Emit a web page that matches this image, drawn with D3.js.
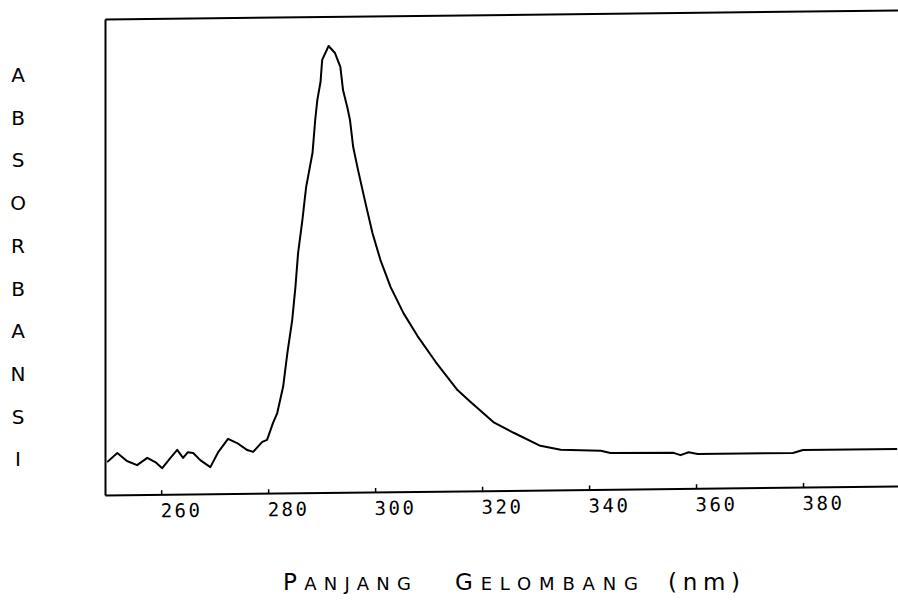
<!DOCTYPE html>
<html>
<head>
<meta charset="utf-8">
<script src="https://cdn.jsdelivr.net/npm/d3@7"></script>
<style>
  body { margin: 0; background: #fff; }
</style>
</head>
<body>
<script>
// Wavelength (nm)
let wavelength = [
  249.9, 251.8, 253.6, 255.5, 257.4, 258.9, 260.2, 261.7, 263.0, 264.1,
  265.0, 266.0, 267.3, 269.2, 270.7, 272.5, 274.2, 276.1, 277.2, 278.9,
  279.8, 280.9, 281.7, 282.8, 283.6, 284.5, 285.1, 285.6, 286.4, 287.1,
  288.3, 288.8, 289.2, 289.8, 290.1, 291.3, 292.5, 293.5, 294.0, 294.8,
  295.3, 295.9, 296.8, 298.2, 299.5, 301.0, 302.9, 305.3, 307.9, 311.3,
  315.4, 317.8, 322.1, 325.9, 330.9, 334.7, 342.2, 344.0, 355.8, 357.1,
  358.6, 360.3, 378.1, 380.0, 397.6
];

// Absorbance (relative, frame height = 1)
let absorbance = [
  0.069, 0.088, 0.071, 0.062, 0.077, 0.068, 0.055, 0.076, 0.093, 0.076,
  0.088, 0.086, 0.071, 0.056, 0.088, 0.115, 0.106, 0.091, 0.087, 0.108,
  0.112, 0.147, 0.168, 0.223, 0.294, 0.363, 0.432, 0.504, 0.573, 0.642,
  0.714, 0.783, 0.825, 0.863, 0.909, 0.938, 0.923, 0.894, 0.845, 0.809,
  0.782, 0.725, 0.677, 0.607, 0.544, 0.487, 0.430, 0.375, 0.327, 0.272,
  0.212, 0.187, 0.144, 0.121, 0.093, 0.084, 0.081, 0.076, 0.075, 0.070,
  0.076, 0.072, 0.072, 0.078, 0.078
];

let xTicks = [260, 280, 300, 320, 340, 360, 380];
let yLetters = ['A', 'B', 'S', 'O', 'R', 'B', 'A', 'N', 'S', 'I'];

let data = wavelength.map((w, i) => ({ nm: w, a: absorbance[i] }));

let width = 898, height = 605;
let margin = { top: 19, bottom: 110, left: 105, right: -12 };

let svg = d3.select('body')
  .append('svg')
  .attr('width', width)
  .attr('height', height)
  .style('background', '#fff');

let xScale = d3.scaleLinear()
  .domain([249.5, 400])
  .range([margin.left, width - margin.right]);

let yScale = d3.scaleLinear()
  .domain([0, 1])
  .range([height - margin.bottom, margin.top]);

// the scanned plot is slightly slanted
let plot = svg.append('g')
  .attr('transform', `translate(${margin.left},0) skewY(-0.65) translate(${-margin.left},0)`);

// bottom axis
let xAxis = plot.append('g')
  .attr('transform', `translate(0,${height - margin.bottom})`)
  .call(d3.axisBottom(xScale).tickValues(xTicks).tickSize(-4).tickSizeOuter(0));

xAxis.select('.domain').attr('stroke-width', 2);
xAxis.selectAll('.tick line').attr('stroke-width', 1.5);
xAxis.selectAll('.tick text')
  .attr('text-anchor', 'start')
  .attr('x', -1)
  .attr('y', 23)
  .attr('dy', 0)
  .style('font-family', 'DejaVu Sans Mono')
  .style('font-size', '19px')
  .style('letter-spacing', '2.5px')
  .style('fill', '#000');

// left and top frame lines
plot.append('g')
  .attr('transform', `translate(${margin.left},0)`)
  .call(d3.axisLeft(yScale).tickValues([]).tickSizeOuter(0))
  .select('.domain').attr('stroke-width', 2);

plot.append('g')
  .attr('transform', `translate(0,${margin.top})`)
  .call(d3.axisTop(xScale).tickValues([]).tickSizeOuter(0))
  .select('.domain').attr('stroke-width', 2);

// spectrum trace
let line = d3.line()
  .x(d => xScale(d.nm))
  .y(d => yScale(d.a));

plot.append('path')
  .datum(data)
  .attr('d', line)
  .attr('fill', 'none')
  .attr('stroke', '#000')
  .attr('stroke-width', 2)
  .attr('stroke-linejoin', 'round');

// vertical y label, one letter per row
svg.append('g')
  .selectAll('text')
  .data(yLetters)
  .enter()
  .append('text')
  .attr('x', 18)
  .attr('y', (d, i) => 82 + i * 42.7)
  .attr('text-anchor', 'middle')
  .style('font-family', 'DejaVu Sans')
  .style('font-size', '20px')
  .style('fill', '#000')
  .text(d => d);

// x axis title in small caps
let title = svg.append('g')
  .style('font-family', 'DejaVu Sans')
  .style('fill', '#000');

let words = [
  { big: 'P', rest: 'ANJANG', x: 283, w: 128 },
  { big: 'G', rest: 'ELOMBANG', x: 455, w: 183 }
];

words.forEach(d => {
  let t = title.append('text')
    .attr('x', d.x)
    .attr('y', 590)
    .attr('textLength', d.w)
    .attr('lengthAdjust', 'spacing');
  t.append('tspan').style('font-size', '23px').text(d.big);
  t.append('tspan').style('font-size', '18px').text(d.rest);
});

title.append('text')
  .attr('x', 668)
  .attr('y', 590)
  .attr('textLength', 72)
  .attr('lengthAdjust', 'spacing')
  .style('font-size', '23px')
  .text('(nm)');
</script>
</body>
</html>
